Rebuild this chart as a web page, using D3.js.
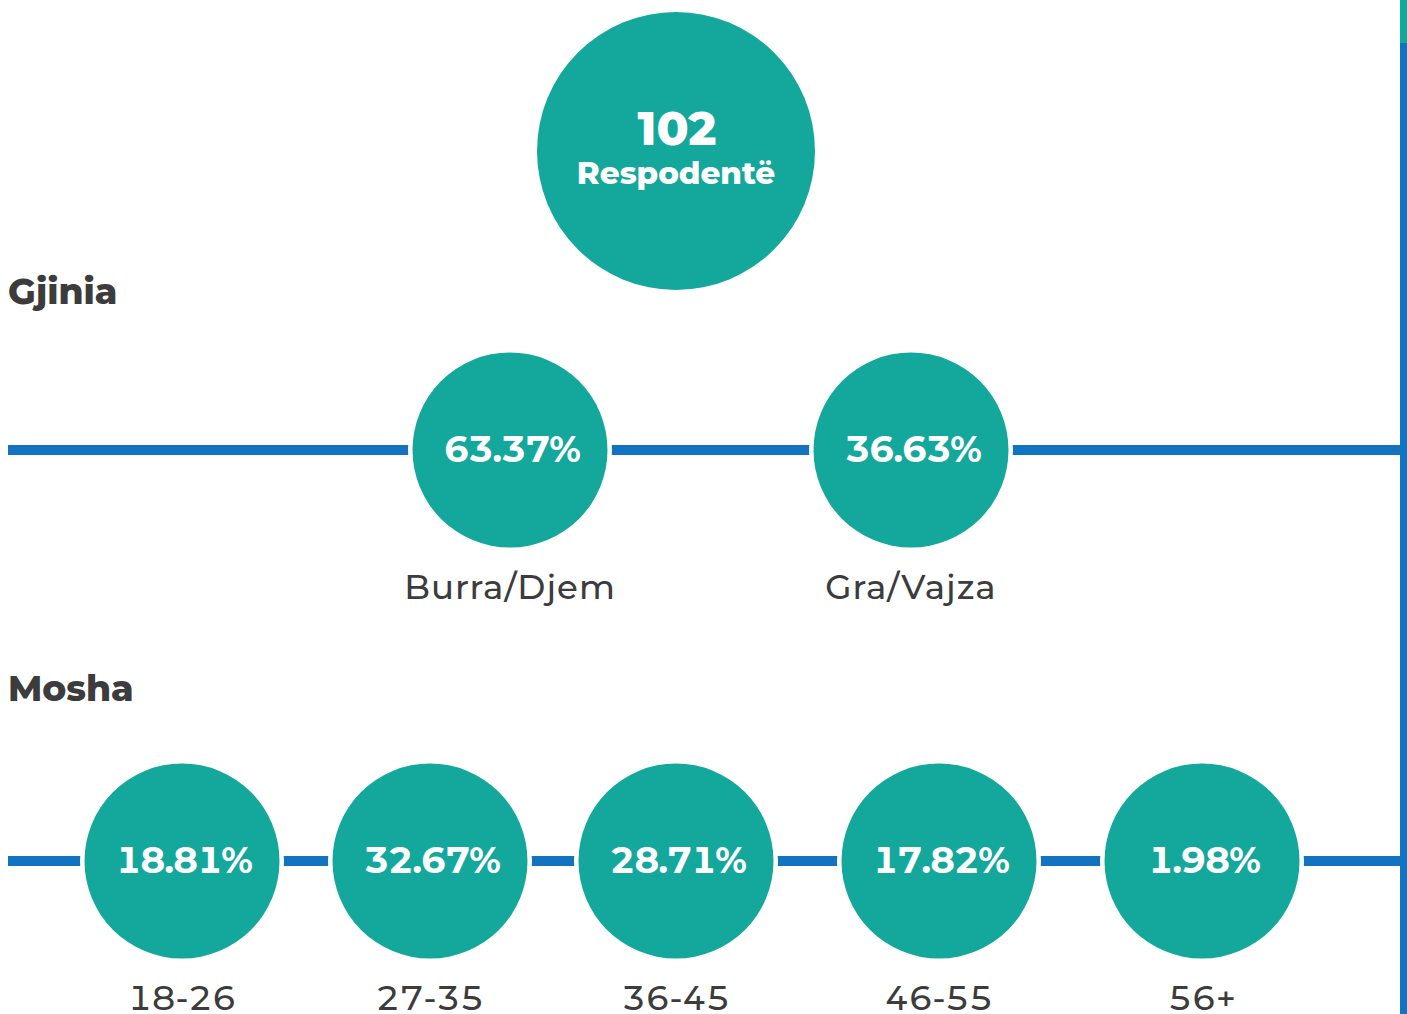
<!DOCTYPE html>
<html><head><meta charset="utf-8">
<script src="https://cdn.jsdelivr.net/npm/d3@7"></script>
<style>html,body{margin:0;padding:0;background:#fff;overflow:hidden}svg{display:block}.tn{font-variant-numeric:tabular-nums}</style>
</head><body>
<svg id="c" width="1407" height="1014"></svg>
<script>
const totalValue = 102;
const totalLabel = "Respodentë";
const genderCategories = ["Burra/Djem", "Gra/Vajza"];
const genderValues = [63.37, 36.63];
const ageCategories = ["18-26", "27-35", "36-45", "46-55", "56+"];
const ageValues = [18.81, 32.67, 28.71, 17.82, 1.98];
const sectionTitles = ["Gjinia", "Mosha"];

const W = 1407, H = 1014;
const teal = "#14a89c", blue = "#1273c0", dark = "#3c3c3c";
const font = "Montserrat, Inter, 'Open Sans', sans-serif";
const svg = d3.select("#c");

const fmt = d => d3.format(".2f")(d) + "%";

// right-edge bar
svg.append("rect").attr("x", 1400).attr("y", 0).attr("width", 7).attr("height", H).attr("fill", blue);
svg.append("rect").attr("x", 1400).attr("y", 0).attr("width", 7).attr("height", 43).attr("fill", teal);

// total circle
svg.append("circle").attr("cx", 676).attr("cy", 151).attr("r", 139).attr("fill", teal);
svg.append("text").attr("x", 677).attr("y", 145).attr("text-anchor", "middle")
  .attr("font-family", font).attr("font-weight", 800).attr("font-size", 47).attr("fill", "#fff").text(totalValue);
svg.append("text").attr("x", 676).attr("y", 184).attr("text-anchor", "middle")
  .attr("font-family", font).attr("font-weight", 800).attr("font-size", 31).attr("fill", "#fff").text(totalLabel);

// section titles
const titleY = [304, 701];
sectionTitles.forEach((t, i) => {
  svg.append("text").attr("x", 8).attr("y", titleY[i]).attr("font-family", font)
    .attr("font-weight", 800).attr("font-size", 36).attr("fill", dark).text(t);
});

function row(cats, vals, xScale, cy, labelY, spacing) {
  const g = svg.append("g");
  g.append("line").attr("x1", 8).attr("x2", 1400).attr("y1", cy).attr("y2", cy)
    .attr("stroke", blue).attr("stroke-width", 10);
  const n = g.selectAll("g.n").data(cats.map((c, i) => ({c, v: vals[i]}))).join("g")
    .attr("transform", d => `translate(${xScale(d.c)},${cy})`);
  n.append("circle").attr("r", 98).attr("fill", teal).attr("stroke", "#fff").attr("stroke-width", 8);
  n.append("circle").attr("r", 97.5).attr("fill", teal);
  n.append("text").attr("class", "tn").attr("x", 2).attr("y", 12).attr("text-anchor", "middle").attr("font-family", font)
    .attr("font-weight", 700).attr("font-size", 36).attr("letter-spacing", -1).attr("fill", "#fff").text(d => fmt(d.v));
  n.append("text").attr("class", "tn").attr("y", labelY - cy).attr("text-anchor", "middle").attr("font-family", font)
    .attr("font-weight", 500).attr("font-size", 34).attr("letter-spacing", spacing).attr("fill", dark).text(d => d.c);
}

const xGender = d3.scaleOrdinal().domain(genderCategories).range([510, 911]);
const xAge = d3.scaleOrdinal().domain(ageCategories).range([182, 430, 676, 939, 1202]);
row(genderCategories, genderValues, xGender, 450, 599, 1);
row(ageCategories, ageValues, xAge, 861, 1010, 0);
</script>
</body></html>
